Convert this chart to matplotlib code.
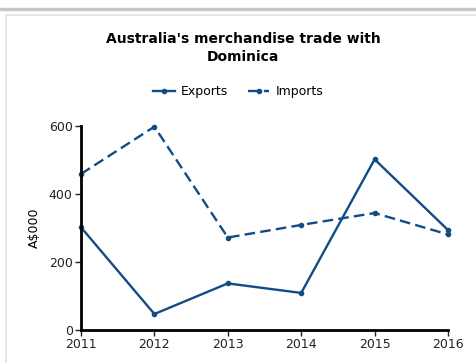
import matplotlib
matplotlib.use("Agg")
import matplotlib.pyplot as plt
from matplotlib.lines import Line2D

years = [2011, 2012, 2013, 2014, 2015, 2016]
exports = [302, 47, 137, 109, 502, 294]
imports = [459, 598, 272, 309, 344, 281]
yticks = [0, 200, 400, 600]

color = "#114c86"

fig = plt.figure(figsize=(4.77, 3.63), dpi=100)

# panel frame lines
fig.add_artist(Line2D([0, 1], [1 - 8.5 / 363] * 2, color="#c8c8c8", lw=2.5))
fig.add_artist(Line2D([6 / 477, 1], [1 - 14.5 / 363] * 2, color="#e3e3e3", lw=1.2))
fig.add_artist(Line2D([6.5 / 477] * 2, [0, 1 - 14.5 / 363], color="#e3e3e3", lw=1.2))

ax = fig.add_axes([81 / 477, 33 / 363, 367 / 477, 204 / 363])
ax.plot(years, exports, color=color, lw=1.7, marker="o", ms=3, label="Exports",
        clip_on=False)
ax.plot(years, imports, color=color, lw=1.7, ls=(0, (4.5, 2.2)), marker="o", ms=3,
        label="Imports", clip_on=False)

ax.set_xlim(2011, 2016)
ax.set_ylim(0, 600)
ax.set_xticks(years)
ax.set_yticks(yticks)
ax.tick_params(labelsize=9, length=4, width=1, colors="#222222", pad=2)
for s in ["top", "right"]:
    ax.spines[s].set_visible(False)
for s in ["left", "bottom"]:
    ax.spines[s].set_linewidth(2)
ax.set_ylabel("A$000", fontsize=9, labelpad=6)

fig.text(0.51, 1 - 48 / 363, "Australia's merchandise trade with\nDominica",
         ha="center", va="center", fontsize=10, fontweight="bold",
         linespacing=1.3)
fig.legend(loc="center", bbox_to_anchor=(0.5, 1 - 92 / 363), ncol=2,
           frameon=False, fontsize=9, handlelength=1.7, columnspacing=1.6,
           handletextpad=0.5)

fig.savefig("out.png", dpi=100)
